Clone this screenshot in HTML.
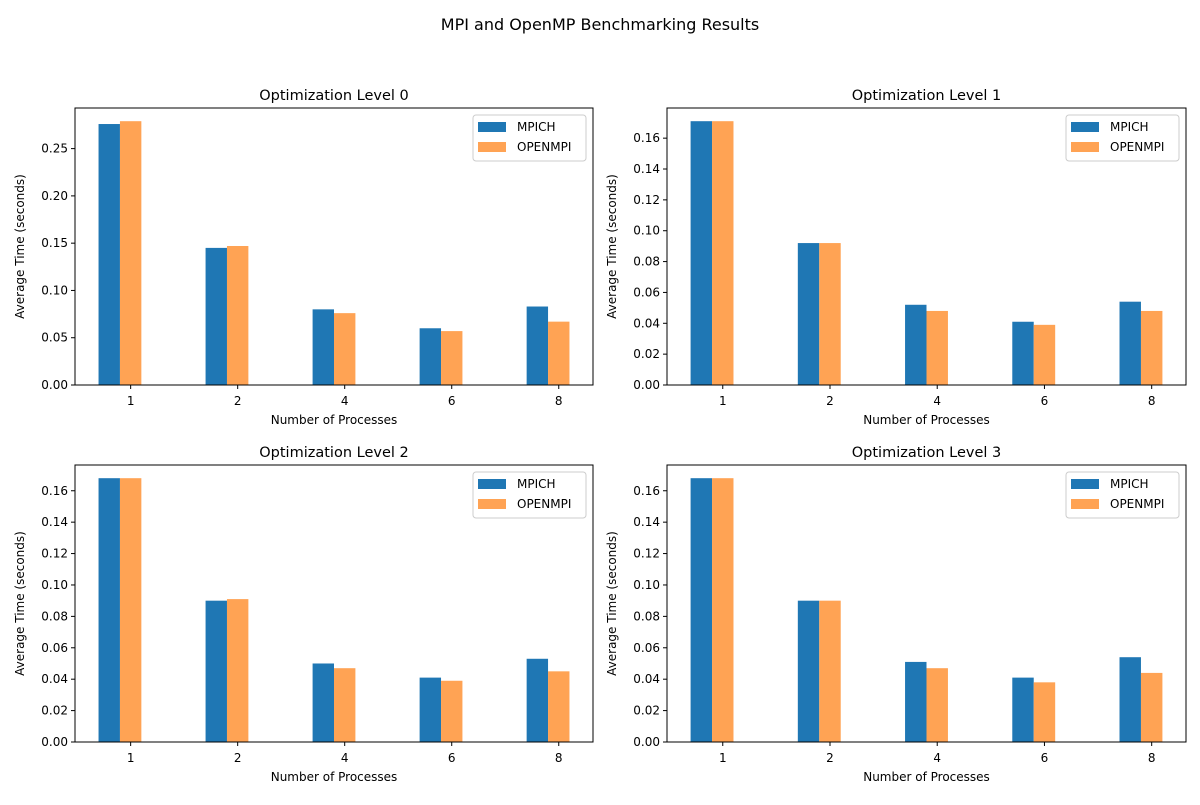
<!DOCTYPE html>
<html><head><meta charset="utf-8"><style>
body{margin:0;background:#fff;font-family:"Liberation Sans","DejaVu Sans",sans-serif;}
svg text{font-family:"DejaVu Sans","Liberation Sans",sans-serif;fill:#000;}
</style></head><body>
<svg id="c" width="1200" height="800">
<rect width="1200" height="800" fill="#fff"/>
<text x="600" y="30" font-size="16" text-anchor="middle">MPI and OpenMP Benchmarking Results</text>
</svg>
<script>
const categories = ["1","2","4","6","8"];
const titles = ["Optimization Level 0","Optimization Level 1","Optimization Level 2","Optimization Level 3"];
const mpich0 = [0.276,0.145,0.080,0.060,0.083];
const openmpi0 = [0.279,0.147,0.076,0.057,0.067];
const mpich1 = [0.171,0.092,0.052,0.041,0.054];
const openmpi1 = [0.171,0.092,0.048,0.039,0.048];
const mpich2 = [0.168,0.090,0.050,0.041,0.053];
const openmpi2 = [0.168,0.091,0.047,0.039,0.045];
const mpich3 = [0.168,0.090,0.051,0.041,0.054];
const openmpi3 = [0.168,0.090,0.047,0.038,0.044];
const yTickStep = [0.05,0.02,0.02,0.02];
const mpichSeries=[mpich0,mpich1,mpich2,mpich3];
const openSeries=[openmpi0,openmpi1,openmpi2,openmpi3];
const svg=document.getElementById('c');
const NS="http://www.w3.org/2000/svg";
function mk(t,a,p){const e=document.createElementNS(NS,t);for(const k in a)e.setAttribute(k,a[k]);(p||svg).appendChild(e);return e;}
const boxes=[[75,108,593,385],[667,108,1186,385],[75,465,593,742],[667,465,1186,742]];
for(let p=0;p<4;p++){
  const [L,T,R,B]=boxes[p];
  const g=mk('g',{});
  
  
  const a=mpichSeries[p],b=openSeries[p];
  const ymax=1.05*Math.max(...a,...b);
  const y=v=>B-(v/ymax)*(B-T);
  const n=categories.length;
  const x0=-0.52, x1=(n-1)+0.32;
  const x=i=>L+(i-x0)/(x1-x0)*(R-L);
  const bw=0.2*(R-L)/(x1-x0);
  for(let i=0;i<n;i++){
    const r1=mk('rect',{x:x(i)-1.5*bw,y:y(a[i]),width:bw,height:B-y(a[i]),fill:'#1f77b4'},g);
    
    
    const r2=mk('rect',{x:x(i)-0.5*bw,y:y(b[i]),width:bw,height:B-y(b[i]),fill:'#ffa354'},g);
    
    
    mk('line',{x1:x(i),x2:x(i),y1:B,y2:B+4,stroke:'#000'},g);
    const t=mk('text',{x:x(i),y:B+20,'font-size':12,'text-anchor':'middle'},g);t.textContent=categories[i];
    
    
  }
  const st=yTickStep[p];
  for(let k=0;k*st<=ymax+1e-9;k++){
    const v=k*st,yy=y(v);
    mk('line',{x1:L-4,x2:L,y1:yy,y2:yy,stroke:'#000'},g);
    const t=mk('text',{x:L-7,y:yy+4,'font-size':12,'text-anchor':'end'},g);t.textContent=v.toFixed(2);
    
    
  }
  mk('rect',{x:L,y:T,width:R-L,height:B-T,fill:'none',stroke:'#000','stroke-width':1},g);
  const tt=mk('text',{x:(L+R)/2,y:T-8,'font-size':14.5,'text-anchor':'middle'},g);tt.textContent=titles[p];
  
  
  const xl=mk('text',{x:(L+R)/2,y:B+39,'font-size':12,'text-anchor':'middle'},g);xl.textContent='Number of Processes';
  
  
  const yl=mk('text',{x:0,y:0,'font-size':12,'text-anchor':'middle',transform:`translate(${L-51},${(T+B)/2}) rotate(-90)`},g);yl.textContent='Average Time (seconds)';
  
  
  const lg=mk('g',{},g);
  
  
  mk('rect',{x:R-120,y:T+7,width:113,height:46,rx:3,fill:'#fff',stroke:'#ccc'},lg);
  mk('rect',{x:R-115,y:T+14,width:28,height:10,fill:'#1f77b4'},lg);
  mk('rect',{x:R-115,y:T+34,width:28,height:10,fill:'#ffa354'},lg);
  const l1=mk('text',{x:R-76,y:T+23,'font-size':12},lg);l1.textContent='MPICH';
  
  
  const l2=mk('text',{x:R-76,y:T+43,'font-size':12},lg);l2.textContent='OPENMPI';
  
  
}
</script>
</body></html>
